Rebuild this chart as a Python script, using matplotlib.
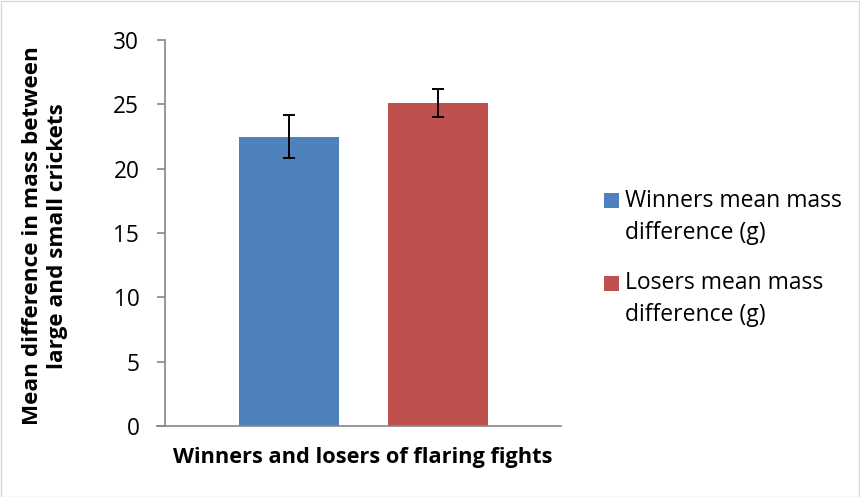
import matplotlib
matplotlib.use("Agg")
import matplotlib.pyplot as plt
from matplotlib.patches import Rectangle

series = ["Winners mean mass\ndifference (g)", "Losers mean mass\ndifference (g)"]
means = [22.5, 25.1]
errors = [1.7, 1.1]
colors = ["#4F81BD", "#C0504D"]
yticks = [0, 5, 10, 15, 20, 25, 30]
xlabel = "Winners and losers of flaring fights"
ylabel = "Mean difference in mass between\nlarge and small crickets"

plt.rcParams['font.family'] = ['Open Sans', 'DejaVu Sans']

W, H = 860, 497
fig = plt.figure(figsize=(W/100, H/100), dpi=100)
ax = fig.add_axes([165/W, 1-426/H, (561-165)/W, (426-40)/H])

offsets = [-0.187, 0.189]
width = 0.2525
for off, m, e, c in zip(offsets, means, errors, colors):
    ax.bar(off, m, width=width, color=c, zorder=2)
    ax.errorbar(off, m, yerr=e, fmt='none', ecolor='black', elinewidth=1.4,
                capsize=4.3, capthick=1.4, zorder=3)

ax.set_xlim(-0.5, 0.5)
ax.set_ylim(0, 30)
ax.set_yticks(yticks)
ax.set_xticks([])
for sp in ['top', 'right']:
    ax.spines[sp].set_visible(False)
for sp in ['left', 'bottom']:
    ax.spines[sp].set_color('#868686')
    ax.spines[sp].set_linewidth(1.2)
ax.spines['bottom'].set_bounds(-0.5 - 8/396, 0.5)
ax.tick_params(axis='y', length=5.5, width=1.2, color='#868686', labelsize=16.3, pad=13)

ax.set_xlabel(xlabel, fontsize=15.7, fontweight='bold', va='center')
ax.xaxis.set_label_coords(0.5, -(457-426)/386)

fig.text(45/W, 1-236/H, ylabel, fontsize=16.2, fontweight='bold', rotation=90,
         ha='center', va='center', multialignment='center', linespacing=1.25)

# legend (manual, Excel-style: marker aligned with the first text line)
entry_y = [201, 283]
for (label, c, yc) in zip(series, colors, entry_y):
    fig.patches.append(Rectangle((604/W, 1-(yc+7.5)/H), 15/W, 15/H,
                                 transform=fig.transFigure, facecolor=c, edgecolor='none'))
    fig.text(625/W, 1-(yc-12)/H, label, fontsize=16.5, ha='left', va='top',
             linespacing=1.42)

fig.patches.append(Rectangle((0.5/W, 0.5/H), 1-1.5/W, 1-1.5/H, transform=fig.transFigure,
                             fill=False, edgecolor='#D9D9D9', linewidth=1))

fig.savefig("out.png", dpi=100)
